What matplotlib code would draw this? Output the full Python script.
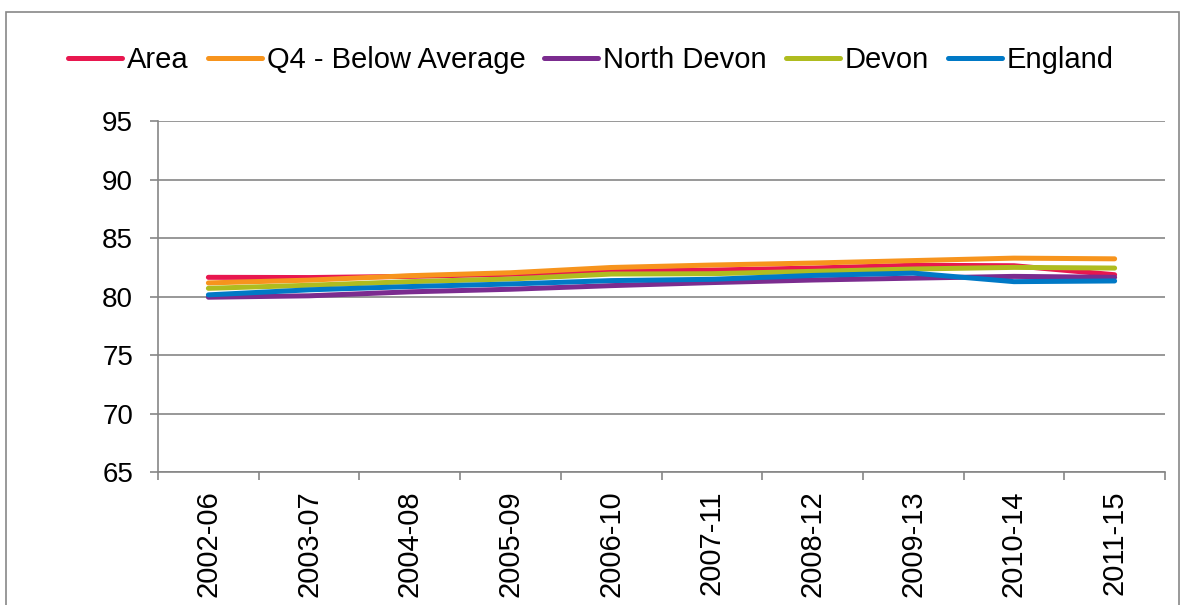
import matplotlib
matplotlib.use('Agg')
import matplotlib.pyplot as plt
from matplotlib.patches import Rectangle

periods = ['2002-06', '2003-07', '2004-08', '2005-09', '2006-10',
           '2007-11', '2008-12', '2009-13', '2010-14', '2011-15']

area = [81.64, 81.62, 81.72, 81.9, 82.15, 82.26, 82.43, 82.67, 82.63, 81.86]
q4_below_avg = [81.16, 81.4, 81.78, 82.03, 82.48, 82.69, 82.86, 83.07, 83.28, 83.22]
north_devon = [79.94, 80.06, 80.4, 80.62, 80.93, 81.19, 81.41, 81.57, 81.72, 81.64]
devon = [80.7, 80.96, 81.27, 81.5, 81.92, 81.95, 82.15, 82.35, 82.49, 82.43]
england = [80.14, 80.57, 80.85, 81.07, 81.36, 81.47, 81.8, 82.0, 81.27, 81.33]

series = [
    ('Area', area, '#E8174F'),
    ('Q4 - Below Average', q4_below_avg, '#F7941D'),
    ('North Devon', north_devon, '#7B2C8F'),
    ('Devon', devon, '#AFBC1F'),
    ('England', england, '#0079C6'),
]

plt.rcParams['font.family'] = ['Liberation Sans', 'DejaVu Sans']

fig = plt.figure(figsize=(11.82, 6.05), dpi=100)
ax = fig.add_axes([0.1337, 0.2198, 0.9856 - 0.1337, 0.80 - 0.2198])

x = list(range(len(periods)))
for name, vals, col in series:
    ax.plot(x, vals, color=col, lw=3.6, label=name,
            solid_capstyle='round', solid_joinstyle='round')

ax.set_xlim(-0.5, len(periods) - 0.5)
ax.set_ylim(65, 95)
ax.set_yticks(range(65, 96, 5))
ax.yaxis.grid(True, color='#868686', lw=1.2)
ax.set_axisbelow(True)

ax.set_xticks(x)
ax.set_xticklabels(periods, rotation=90, fontsize=21, va='top')
ax.set_xticks([i - 0.5 for i in range(len(periods) + 1)], minor=True)
ax.tick_params(axis='x', which='major', length=0, pad=13)
ax.tick_params(axis='x', which='minor', length=6, color='#868686', width=1.2)
ax.tick_params(axis='y', length=6, color='#868686', width=1.2,
               labelsize=20, pad=12)

for s in ['top', 'right']:
    ax.spines[s].set_visible(False)
for s in ['left', 'bottom']:
    ax.spines[s].set_color('#868686')
    ax.spines[s].set_linewidth(1.2)

fig.legend(loc='center', bbox_to_anchor=(0.5, 0.901), ncol=5, frameon=False,
           fontsize=21, handlelength=1.85, handletextpad=0.17,
           columnspacing=0.65)

fig.patches.append(Rectangle((6 / 1182, -0.01), 1173 / 1182, 1.01 - 12 / 605,
                             transform=fig.transFigure, fill=False,
                             edgecolor='#878787', lw=1.2))

fig.savefig('out.png', dpi=100)
